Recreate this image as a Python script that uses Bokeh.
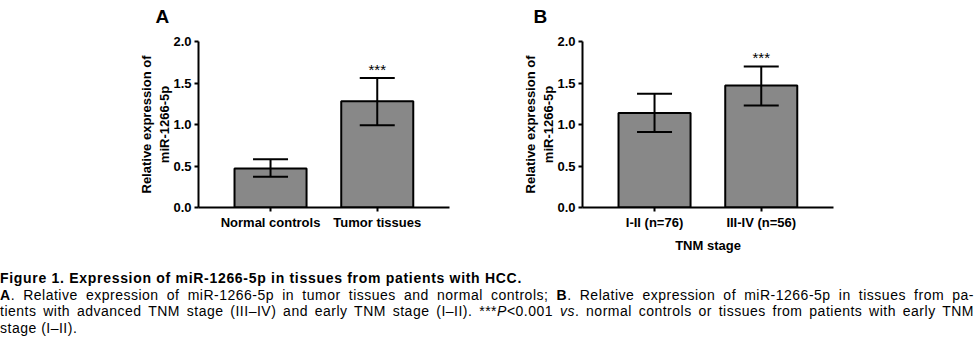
from bokeh.plotting import figure
from bokeh.models import (ColumnDataSource, Whisker, TeeHead, FixedTicker, Range1d, Title, Div)
from bokeh.layouts import row, column
from bokeh.embed import file_html
from bokeh.resources import INLINE
from bokeh.core.properties import value

# ---------------- data ----------------
a_categories = ["Normal controls", "Tumor tissues"]
a_means = [0.47, 1.28]
a_lower = [0.37, 0.99]
a_upper = [0.58, 1.56]
a_marks = ["", "***"]

b_categories = ["I-II (n=76)", "III-IV (n=56)"]
b_means = [1.14, 1.47]
b_lower = [0.91, 1.23]
b_upper = [1.37, 1.70]
b_marks = ["", "***"]

y_ticks = [0.0, 0.5, 1.0, 1.5, 2.0]
y_tick_labels = ["0.0", "0.5", "1.0", "1.5", "2.0"]

y_title = "Relative expression of\nmiR-1266-5p"
b_x_title = "TNM stage"

caption_title = "Figure 1. Expression of miR-1266-5p in tissues from patients with HCC."
caption_line2 = ("<b>A</b>. Relative expression of miR-1266-5p in tumor tissues and normal controls; "
                 "<b>B</b>. Relative expression of miR-1266-5p in tissues from pa-")
caption_line3 = ("tients with advanced TNM stage (III\u2013IV) and early TNM stage (I\u2013II). "
                 "***<i>P</i>&lt;0.001 <i>vs</i>. normal controls or tissues from patients with early TNM")
caption_line4 = "stage (I\u2013II)."

FONT = "Liberation Sans"
FRAME_H = 166
TOP = 54          # top border (holds the panel letter)
SHIFT = 13        # figure is pulled up by this many pixels


def panel(cats, means, lower, upper, marks, letter, letter_offset, xlabel, left, right):
    xs = list(range(len(cats)))
    src = ColumnDataSource(dict(x=xs, top=means, lower=lower, upper=upper, mark=marks))
    p = figure(frame_width=251, frame_height=FRAME_H, output_backend="svg", toolbar_location=None,
               x_range=Range1d(-0.675, 1.677), y_range=Range1d(0, 2.0),
               min_border_left=left, min_border_right=right,
               min_border_top=TOP, min_border_bottom=53,
               margin=(-SHIFT, 0, 0, 0))
    p.outline_line_color = None
    p.grid.visible = False
    p.background_fill_color = "white"
    p.border_fill_color = "white"

    p.vbar(x="x", top="top", bottom=0, width=0.675, source=src,
           fill_color="#888888", line_color="black", line_width=2)
    w = Whisker(base="x", lower="lower", upper="upper", source=src,
                line_width=2, line_color="black", level="overlay",
                upper_head=TeeHead(size=35, line_width=2, line_color="black"),
                lower_head=TeeHead(size=35, line_width=2, line_color="black"))
    p.add_layout(w)
    p.text(x="x", y="upper", text="mark", source=src, text_align="center",
           text_baseline="alphabetic", y_offset=-9, text_font=value(FONT),
           text_font_size="15px", text_color="black")

    for ax in (p.xaxis[0], p.yaxis[0]):
        ax.axis_line_width = 2
        ax.axis_line_color = "black"
        ax.major_tick_line_width = 2
        ax.major_tick_line_color = "black"
        ax.major_tick_out = 4
        ax.major_tick_in = 0
        ax.minor_tick_line_color = None
        ax.major_label_text_font = FONT
        ax.major_label_text_font_style = "bold"
        ax.major_label_text_font_size = "13px"
        ax.major_label_text_color = "black"
        ax.axis_label_text_font = FONT
        ax.axis_label_text_font_style = "bold"
        ax.axis_label_text_font_size = "13px"
        ax.axis_label_text_color = "black"

    p.xaxis.ticker = FixedTicker(ticks=xs)
    p.xaxis.major_label_overrides = {x: c for x, c in zip(xs, cats)}
    p.xaxis.major_label_standoff = 3
    if xlabel:
        p.xaxis.axis_label = xlabel
        p.xaxis.axis_label_standoff = 5

    p.yaxis.ticker = FixedTicker(ticks=y_ticks)
    p.yaxis.major_label_overrides = {t: l for t, l in zip(y_ticks, y_tick_labels)}
    p.yaxis.major_label_standoff = 3
    p.yaxis.axis_label = y_title
    p.yaxis.axis_label_standoff = -2

    p.title = Title(text=letter, text_font=FONT, text_font_style="bold",
                    text_font_size="19px", text_color="black", align="left",
                    offset=letter_offset, standoff=30, text_line_height=1.0)
    return p


pa = panel(a_categories, a_means, a_lower, a_upper, a_marks, "A", -43, None, 198, 33)
pb = panel(b_categories, b_means, b_lower, b_upper, b_marks, "B", -49, b_x_title, 100, 141)

base_style = ("font-family:'Liberation Sans',Arial,sans-serif;font-size:14px;line-height:16.5px;"
              "color:#000;width:974px;")
just = "text-align:justify;text-align-last:justify;letter-spacing:0.5px;"
left_ = "text-align:left;text-align-last:left;"
html = (
    f"<div style=\"padding-top:10px;\">"
    f"<div style=\"{base_style}{left_}font-weight:bold;letter-spacing:0.7px;\">{caption_title}</div>"
    f"<div style=\"{base_style}{just}\">{caption_line2}</div>"
    f"<div style=\"{base_style}{just}\">{caption_line3}</div>"
    f"<div style=\"{base_style}{left_}letter-spacing:0.5px;\">{caption_line4}</div>"
    f"</div>"
)
cap = Div(text=html, width=974, height=92, margin=(0, 0, 0, 0))

layout = column(row(pa, pb, spacing=0), cap, spacing=0)

open("out.html", "w").write(file_html(layout, INLINE))
